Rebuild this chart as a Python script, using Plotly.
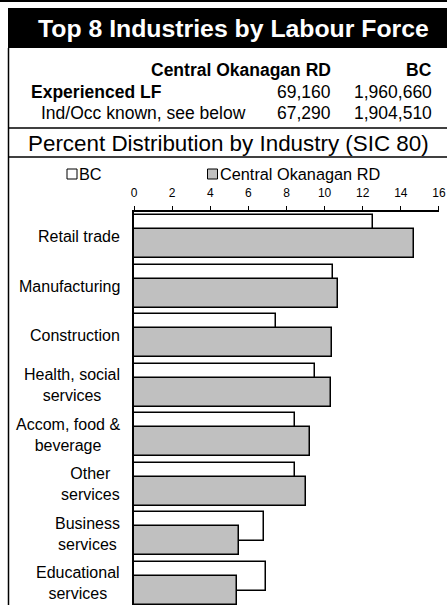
import plotly.graph_objects as go

categories = ["Retail trade", "Manufacturing", "Construction", "Health, social<br>services",
              "Accom, food &<br>beverage", "Other<br>services", "Business<br>services",
              "Educational<br>services"]
bc_values = [12.52, 10.42, 7.47, 9.48, 8.46, 8.43, 6.80, 6.91]
co_values = [14.71, 10.68, 10.39, 10.34, 9.25, 9.01, 5.53, 5.40]
x_ticks = [0, 2, 4, 6, 8, 10, 12, 14, 16]

title = "Top 8 Industries by Labour Force"
col_heads = ["Central Okanagan RD", "BC"]
row_labels = ["Experienced LF", "Ind/Occ known, see below"]
row_co = ["69,160", "67,290"]
row_bc = ["1,960,660", "1,904,510"]
subtitle = "Percent Distribution by Industry (SIC 80)"
series_names = ["BC", "Central Okanagan RD"]

W, H = 447, 605
L, R, T, B = 134, 8, 212, 0
PW, PH = W - L - R, H - T - B
FONT = "Liberation Sans, Arial, sans-serif"


def px(x):
    return (x - L) / PW


def py(y):
    return (H - B - y) / PH


idx = list(range(len(categories)))
fig = go.Figure()
fig.add_trace(go.Bar(y=idx, x=bc_values, orientation="h", name=series_names[0],
                     width=0.586, offset=-0.435,
                     marker=dict(color="white", line=dict(color="black", width=1.5))))
fig.add_trace(go.Bar(y=idx, x=co_values, orientation="h", name=series_names[1],
                     width=0.586, offset=-0.1515,
                     marker=dict(color="#C0C0C0", line=dict(color="black", width=1.5))))

shapes = []
# top thin line
shapes.append(dict(type="line", xref="paper", yref="paper", x0=px(0), x1=px(W), y0=py(1), y1=py(1),
                   line=dict(color="black", width=2)))
# title bar
shapes.append(dict(type="rect", xref="paper", yref="paper", x0=px(8), x1=px(W), y0=py(48), y1=py(8),
                   fillcolor="black", line=dict(width=0)))
# left border
shapes.append(dict(type="line", xref="paper", yref="paper", x0=px(8.5), x1=px(8.5), y0=py(48), y1=py(H),
                   line=dict(color="black", width=1.5)))
for yy in (128, 157):
    shapes.append(dict(type="line", xref="paper", yref="paper", x0=px(8), x1=px(W), y0=py(yy), y1=py(yy),
                       line=dict(color="black", width=1.5)))
# legend squares
shapes.append(dict(type="rect", xref="paper", yref="paper", x0=px(67), x1=px(77), y0=py(179), y1=py(169),
                   fillcolor="white", line=dict(color="black", width=1)))
shapes.append(dict(type="rect", xref="paper", yref="paper", x0=px(207.5), x1=px(217.5), y0=py(179), y1=py(169),
                   fillcolor="#C0C0C0", line=dict(color="black", width=1)))

ann = []


def text(t, x, y, size, anchor="center", bold=False, color="black"):
    ann.append(dict(text=f"<b>{t}</b>" if bold else t, xref="paper", yref="paper",
                    x=px(x), y=py(y), xanchor=anchor, yanchor="middle", showarrow=False,
                    font=dict(family=FONT, size=size, color=color)))


text(title, 233, 28, 24.8, bold=True, color="white")
text(col_heads[0], 333, 70, 17.5, "right", bold=True)
text(col_heads[1], 434, 70, 17.5, "right", bold=True)
text(row_labels[0], 29, 92, 17.5, "left", bold=True)
text(row_co[0], 333, 92, 17.5, "right")
text(row_bc[0], 434, 92, 17.5, "right")
text(row_labels[1], 39, 113, 17.5, "left")
text(row_co[1], 333, 113, 17.5, "right")
text(row_bc[1], 434, 113, 17.5, "right")
text(subtitle, 228, 143, 22.4)
text(series_names[0], 77, 174, 16.3, "left")
text(series_names[1], 218, 174, 16.3, "left")

for i, c in enumerate(categories):
    ann.append(dict(text=c, xref="paper", yref="y", x=px(122), y=i, xanchor="right", yanchor="middle",
                    align="center", showarrow=False, font=dict(family=FONT, size=16, color="black")))

fig.update_layout(
    width=W, height=H, margin=dict(l=L, r=R, t=T, b=B, pad=0),
    paper_bgcolor="white", plot_bgcolor="white",
    barmode="overlay", showlegend=False, bargap=0,
    shapes=shapes, annotations=ann,
    font=dict(family=FONT, color="black"),
    xaxis=dict(range=[0, 16.001], side="top", tickvals=x_ticks, ticks="outside", ticklen=4,
               ticklabelstandoff=4, ticklabeloverflow="allow",
               tickcolor="black", showline=True, linecolor="black", linewidth=1.5,
               showgrid=False, zeroline=False, tickfont=dict(size=12, family=FONT), fixedrange=True),
    yaxis=dict(range=[7.44, -0.5], showticklabels=False, ticks="", showgrid=False, zeroline=False,
               showline=True, linecolor="black", linewidth=1.5, fixedrange=True),
)

fig.write_html("out.html", config={"displayModeBar": False},
               post_script="document.body.style.margin='0px';document.body.style.overflow='hidden';")
